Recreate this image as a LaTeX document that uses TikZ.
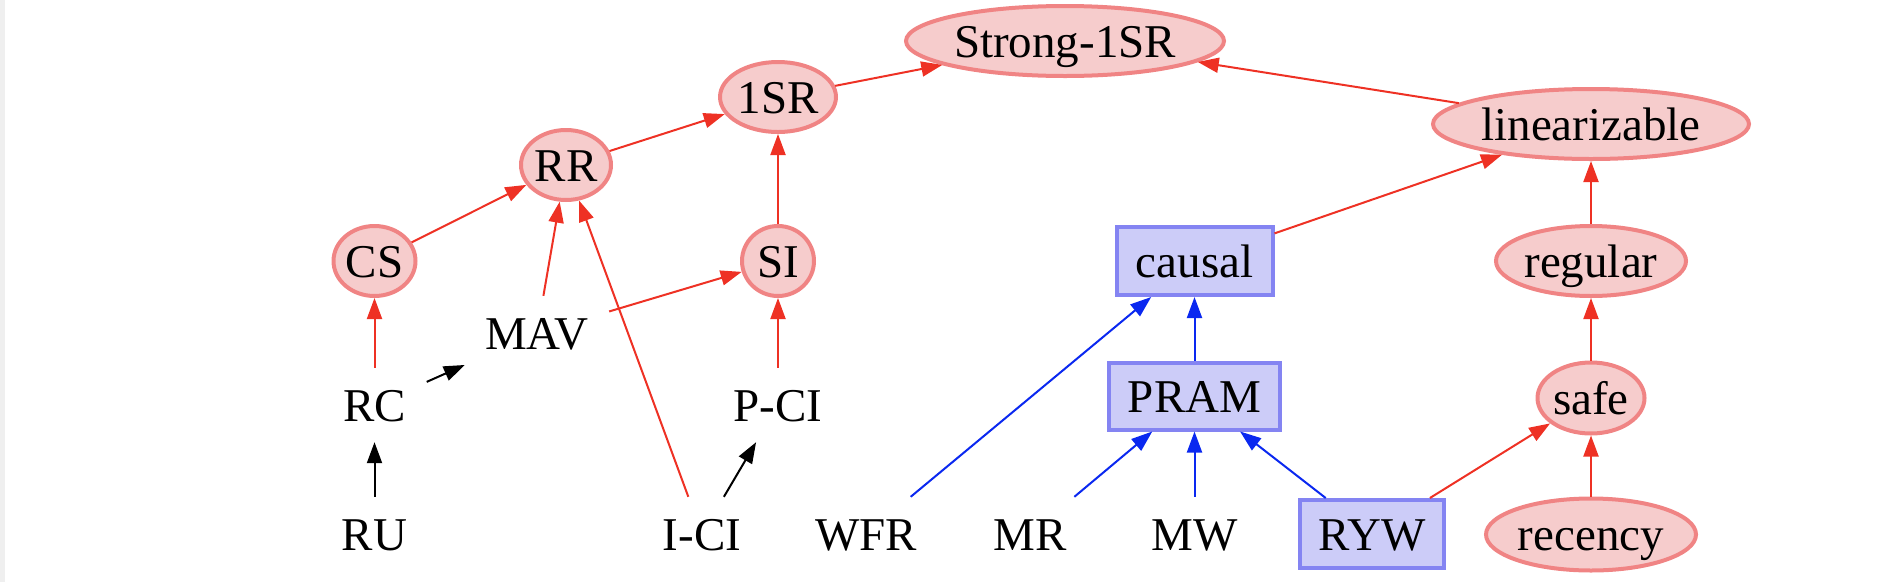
\documentclass[tikz,border=0pt]{standalone}
\usepackage{fontspec}
\setmainfont{Liberation Serif}
\usetikzlibrary{shapes.geometric,arrows.meta}
\definecolor{efill}{HTML}{F6CCCC}
\definecolor{edraw}{HTML}{F08484}
\definecolor{bfill}{HTML}{CCCCF8}
\definecolor{bdraw}{HTML}{8484F2}
\definecolor{ered}{HTML}{EE3124}
\definecolor{eblue}{HTML}{0A28F0}
\definecolor{stripgray}{HTML}{EFEFEF}
\begin{document}
\begin{tikzpicture}[x=1pt,y=-1pt,
  every node/.style={font=\fontsize{47}{56}\selectfont, text height=36pt, text depth=4pt, inner sep=0pt},
  ell/.style={ellipse, draw=edraw, fill=efill, line width=4pt},
  bx/.style={rectangle, draw=bdraw, fill=bfill, line width=4pt},
  plain/.style={rectangle, minimum height=74pt, minimum width=110pt},
  tip/.style={-{Triangle[length=21pt,width=15pt]}},
  redge/.style={draw=ered, line width=2pt, tip},
  bedge/.style={draw=eblue, line width=2pt, tip},
  kedge/.style={draw=black, line width=2pt, tip}]
\useasboundingbox (0,0) rectangle (1904,582);
\fill[stripgray] (0,0) rectangle (5,582);

% ellipse nodes
\node[ell, minimum width=318pt, minimum height=70pt] (strong) at (1065,41) {Strong-1SR};
\node[ell, minimum width=116pt, minimum height=70pt] (onesr) at (778,97) {1SR};
\node[ell, minimum width=90pt, minimum height=70pt] (rr) at (566,165) {RR};
\node[ell, minimum width=82pt, minimum height=70pt] (cs) at (374.5,261) {CS};
\node[ell, minimum width=72pt, minimum height=70pt] (si) at (778,261) {SI};
\node[ell, minimum width=316pt, minimum height=70pt] (lin) at (1591,124) {linearizable};
\node[ell, minimum width=190pt, minimum height=70pt] (regular) at (1591,261) {regular};
\node[ell, minimum width=106pt, minimum height=71pt] (safe) at (1591,398) {safe};
\node[ell, minimum width=210pt, minimum height=72pt] (recency) at (1591,534.5) {recency};

% box nodes
\node[bx, minimum width=156pt, minimum height=68pt] (causal) at (1194.5,261) {causal};
\node[bx, minimum width=171pt, minimum height=67pt] (pram) at (1194.5,396) {PRAM};
\node[bx, minimum width=144pt, minimum height=68pt] (ryw) at (1372,534) {RYW};

% plain text nodes
\node[plain, minimum width=144pt] (mav) at (537,333) {MAV};
\node[plain, minimum width=104pt] (rc) at (374.5,405) {RC};
\node[plain, minimum width=120pt] (pci) at (778,405) {P-CI};
\node[plain] (ru) at (374.5,534) {RU};
\node[plain, minimum width=120pt] (ici) at (702,534) {I-CI};
\node[plain, minimum width=120pt] (wfr) at (866,534) {WFR};
\node[plain] (mr) at (1030,534) {MR};
\node[plain] (mw) at (1194.5,534) {MW};

% red edges
\draw[redge] (cs) -- (rr);
\draw[redge] (rr) -- (onesr);
\draw[redge] (onesr) -- (strong);
\draw[redge] (lin) -- (strong);
\draw[redge] (si) -- (onesr);
\draw[redge] (mav) -- (rr);
\draw[redge] (mav) -- (si);
\draw[redge] (ici) -- (rr);
\draw[redge] (rc) -- (cs);
\draw[redge] (pci) -- (si);
\draw[redge] (causal) -- (lin);
\draw[redge] (regular) -- (lin);
\draw[redge] (safe) -- (regular);
\draw[redge] (recency) -- (safe);
\draw[redge] (ryw) -- (safe);

% black edges
\draw[kedge] (rc) -- (mav);
\draw[kedge] (ru) -- (rc);
\draw[kedge] (ici) -- (pci);

% blue edges
\draw[bedge] (wfr) -- (causal);
\draw[bedge] (pram) -- (causal);
\draw[bedge] (mr) -- (pram);
\draw[bedge] (mw) -- (pram);
\draw[bedge] (ryw) -- (pram);
\end{tikzpicture}
\end{document}
